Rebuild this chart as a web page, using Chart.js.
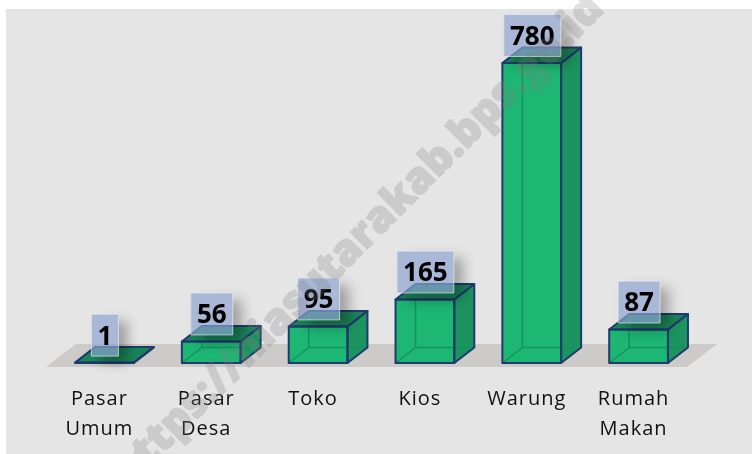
<!DOCTYPE html>
<html>
<head>
<meta charset="utf-8">
<style>
  body { margin: 0; background: #ffffff; }
  canvas { display: block; }
</style>
<script src="https://cdn.jsdelivr.net/npm/chart.js@4"></script>
</head>
<body>
<canvas id="chart" width="752" height="454"></canvas>
<script>
const categories = [["Pasar", "Umum"], ["Pasar", "Desa"], "Toko", "Kios", "Warung", ["Rumah", "Makan"]]
const jumlah = [1, 56, 95, 165, 780, 87]

// Bidang kotak 3D
const depthX = 20
const depthY = 15.5
const outline = "#1f3a6c"

function poly(ctx, pts, fill, stroke, lw) {
  ctx.beginPath()
  pts.forEach((p, i) => (i ? ctx.lineTo(p[0], p[1]) : ctx.moveTo(p[0], p[1])))
  ctx.closePath()
  if (fill) {
    ctx.fillStyle = fill
    ctx.fill()
  }
  if (stroke) {
    ctx.strokeStyle = stroke
    ctx.lineWidth = lw
    ctx.lineJoin = "round"
    ctx.stroke()
  }
}

const boxPlugin = {
  id: "box3d",
  beforeDraw(chart) {
    const ctx = chart.ctx
    ctx.fillStyle = "#ffffff"
    ctx.fillRect(0, 0, 752, 454)
    ctx.fillStyle = "#e5e5e5"
    ctx.fillRect(6, 9, 746, 445)
    ctx.letterSpacing = "1px"
  },
  beforeDatasetsDraw(chart) {
    const ctx = chart.ctx
    ctx.letterSpacing = "0px"
    // lantai
    poly(ctx, [[76, 344], [717, 344], [687, 367], [46, 367]], "#cdcbc9")
    chart.getDatasetMeta(0).data.forEach((bar) => {
      const { x, y, base, width } = bar.getProps(["x", "y", "base", "width"], true)
      const l = x - width / 2
      const r = x + width / 2
      poly(ctx, [[r, y], [r + depthX, y - depthY], [r + depthX, base - depthY], [r, base]], "#1d945f")
      poly(ctx, [[l, y], [l + depthX, y - depthY], [r + depthX, y - depthY], [r, y]], "#1a8458")
    })
  },
  afterDatasetsDraw(chart) {
    const ctx = chart.ctx
    chart.getDatasetMeta(0).data.forEach((bar) => {
      const { x, y, base, width } = bar.getProps(["x", "y", "base", "width"], true)
      const l = x - width / 2
      const r = x + width / 2
      // rusuk belakang
      ctx.strokeStyle = "#14945c"
      ctx.lineWidth = 1.5
      ctx.beginPath()
      ctx.moveTo(l, base)
      ctx.lineTo(l + depthX, base - depthY)
      ctx.lineTo(r + depthX, base - depthY)
      ctx.moveTo(l + depthX, base - depthY)
      ctx.lineTo(l + depthX, y - depthY)
      ctx.stroke()
      // rusuk depan
      poly(ctx, [[l, y], [r, y], [r, base], [l, base]], null, outline, 2)
      poly(ctx, [[r, y], [r + depthX, y - depthY], [r + depthX, base - depthY], [r, base]], null, outline, 2)
      poly(ctx, [[l, y], [l + depthX, y - depthY], [r + depthX, y - depthY], [r, y]], null, outline, 2)
    })
    // label nilai
    ctx.font = "bold 26px 'Open Sans', sans-serif"
    ctx.textAlign = "center"
    ctx.textBaseline = "middle"
    chart.getDatasetMeta(0).data.forEach((bar, i) => {
      const label = String(jumlah[i])
      const w = label.length * 15 + 12
      const h = 42
      const bx = bar.x - w / 2 + 0.5
      const by = bar.y - 27.5 - h / 2

      ctx.save()
      ctx.beginPath()
      ctx.rect(0, 0, 752, 454)
      ctx.rect(bx, by, w, h)
      ctx.clip("evenodd")
      ctx.shadowColor = "rgba(0,0,0,0.3)"
      ctx.shadowBlur = 12
      ctx.shadowOffsetX = 9
      ctx.shadowOffsetY = 7
      ctx.fillStyle = "#888888"
      ctx.fillRect(bx, by, w, h)
      ctx.restore()

      ctx.fillStyle = "rgba(140,162,208,0.68)"
      ctx.fillRect(bx, by, w, h)
      ctx.strokeStyle = "rgba(255,255,255,0.55)"
      ctx.lineWidth = 1
      ctx.strokeRect(bx, by, w, h)
      ctx.fillStyle = "#000000"
      ctx.fillText(label, bx + w / 2, by + h / 2 + 2)
    })
  },
  afterDraw(chart) {
    // watermark, digambar dulu di kanvas lain supaya isi dan garisnya tidak menumpuk
    const layer = document.createElement("canvas")
    layer.width = 752
    layer.height = 454
    const wm = layer.getContext("2d")
    wm.translate(358, 241)
    wm.rotate(-45 * Math.PI / 180)
    wm.font = "800 43px 'Open Sans', sans-serif"
    wm.textAlign = "center"
    wm.textBaseline = "middle"
    wm.fillStyle = "#808080"
    wm.strokeStyle = "#808080"
    wm.lineWidth = 1.5
    wm.lineJoin = "round"
    wm.fillText("https://niasutarakab.bps.go.id", 0, 0)
    wm.strokeText("https://niasutarakab.bps.go.id", 0, 0)

    const ctx = chart.ctx
    ctx.save()
    ctx.globalAlpha = 0.25
    ctx.filter = "blur(0.6px)"
    ctx.drawImage(layer, 0, 0)
    ctx.restore()
  },
}

new Chart(document.getElementById("chart"), {
  type: "bar",
  data: {
    labels: categories,
    datasets: [
      {
        data: jumlah,
        backgroundColor: "#1db673",
        borderWidth: 0,
        categoryPercentage: 1,
        barPercentage: 0.55,
      },
    ],
  },
  plugins: [boxPlugin],
  options: {
    responsive: false,
    animation: false,
    layout: { padding: { left: 51, right: 60, top: 63, bottom: 0 } },
    plugins: { legend: { display: false }, tooltip: { enabled: false } },
    scales: {
      x: {
        grid: { display: false },
        border: { display: false },
        afterFit(scale) {
          scale.height = 91
        },
        ticks: {
          color: "#111111",
          padding: 13,
          labelOffset: -5,
          maxRotation: 0,
          autoSkip: false,
          font: { family: "'Open Sans', sans-serif", size: 20, lineHeight: 1.5 },
        },
      },
      y: { display: false, min: 0, max: 780 },
    },
  },
})
</script>
</body>
</html>
